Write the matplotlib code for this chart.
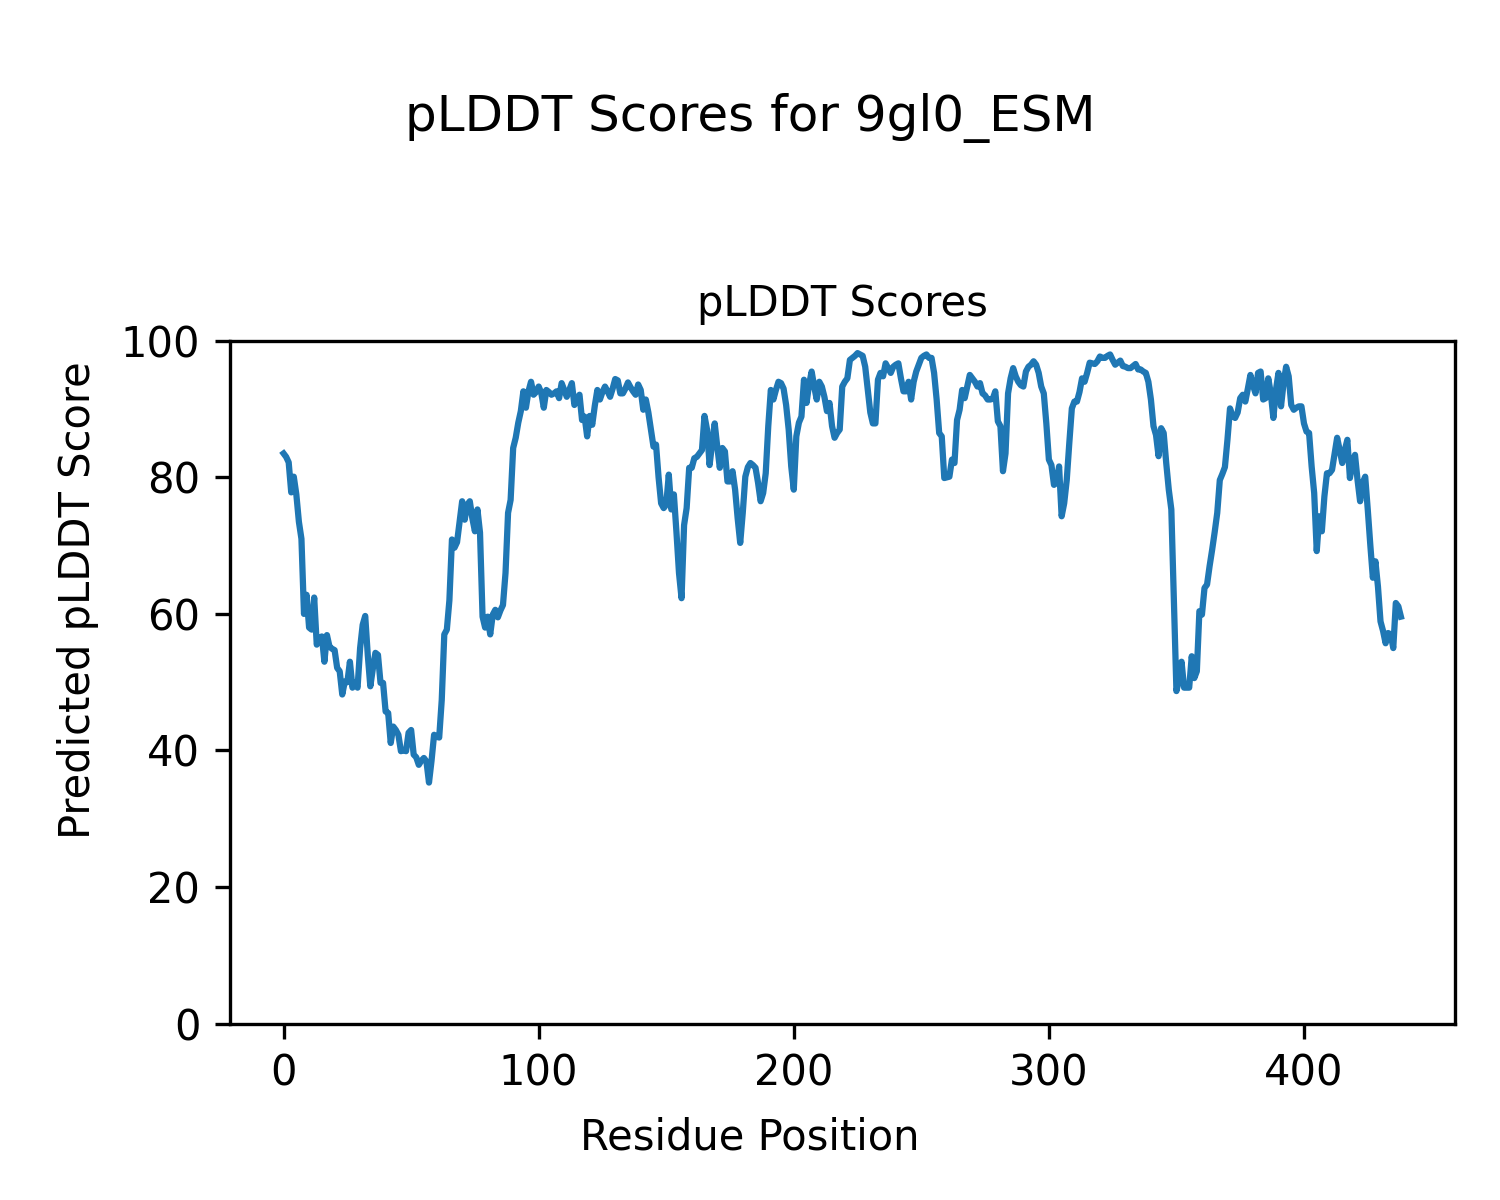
import matplotlib
matplotlib.use("Agg")
import matplotlib.pyplot as plt
import numpy as np

# pLDDT per residue
plddt = [
    83.5, 83.0, 82.2, 77.8, 80.1, 77.5, 73.5, 71.0, 60.0, 62.8,
    58.0, 57.7, 62.4, 55.5, 56.5, 56.7, 53.0, 56.9, 55.2, 54.9,
    54.7, 52.1, 51.6, 48.2, 50.1, 50.0, 53.0, 49.2, 50.0, 49.2,
    55.0, 58.4, 59.7, 54.0, 49.4, 52.0, 54.3, 54.0, 49.9, 49.9,
    45.7, 45.5, 41.1, 43.5, 43.0, 42.3, 39.9, 40.0, 39.9, 42.6,
    43.0, 39.4, 39.0, 37.9, 38.5, 38.9, 38.4, 35.3, 38.5, 42.3,
    42.0, 41.9, 47.4, 57.0, 57.7, 62.0, 70.9, 69.7, 70.5, 73.5,
    76.5, 73.8, 76.0, 76.5, 74.0, 72.1, 75.3, 71.9, 59.6, 58.0,
    59.6, 57.0, 59.9, 60.6, 59.5, 60.5, 61.3, 66.0, 74.8, 76.7,
    84.3, 85.8, 88.0, 89.7, 92.6, 90.2, 92.6, 94.0, 92.1, 92.5,
    93.3, 92.4, 90.2, 92.8, 92.5, 92.1, 92.3, 92.6, 91.6, 93.8,
    92.8, 91.8, 92.8, 93.8, 90.6, 91.5, 92.1, 88.4, 88.9, 86.0,
    89.0, 87.7, 90.5, 92.8, 91.4, 92.5, 93.3, 92.6, 91.8, 93.0,
    94.4, 94.2, 92.3, 92.3, 93.0, 93.9, 93.2, 92.6, 92.1, 93.6,
    92.8, 89.9, 91.4, 89.5, 87.0, 84.5, 84.8, 80.0, 76.2, 75.5,
    76.0, 80.4, 75.3, 77.5, 72.0, 66.0, 62.3, 73.0, 75.5, 81.4,
    81.4, 82.8, 83.0, 83.5, 84.0, 89.0, 87.0, 81.8, 85.0, 87.9,
    84.5, 81.4, 84.3, 83.8, 79.4, 79.4, 80.9, 78.2, 74.0, 70.4,
    74.8, 80.1, 81.5, 82.1, 81.8, 81.4, 79.2, 76.5, 77.7, 80.6,
    87.5, 92.8, 91.4, 92.8, 94.0, 93.8, 93.0, 90.6, 87.0, 81.6,
    78.2, 86.0, 88.0, 88.9, 94.3, 90.9, 93.6, 95.5, 93.3, 91.4,
    94.0, 93.3, 91.8, 89.7, 90.9, 87.5, 85.8, 86.5, 87.0, 93.3,
    94.0, 94.5, 97.2, 97.5, 97.8, 98.2, 98.0, 97.8, 96.2, 92.8,
    89.5, 87.9, 87.9, 94.3, 95.3, 94.8, 96.7, 96.0, 95.3, 96.2,
    96.5, 96.7, 94.5, 92.6, 92.6, 94.0, 91.4, 94.0, 95.5, 96.5,
    97.5, 97.8, 98.0, 97.5, 97.5, 95.3, 91.4, 86.5, 86.0, 79.9,
    80.0, 80.1, 82.6, 82.1, 88.4, 89.9, 92.8, 91.6, 93.3, 95.0,
    94.5, 94.0, 93.3, 93.8, 92.3, 92.0, 91.4, 91.4, 91.5, 92.6,
    88.2, 87.5, 80.9, 83.5, 92.3, 94.5, 96.0, 94.8, 94.0, 93.5,
    93.3, 95.5, 96.2, 96.5, 97.0, 96.5, 95.3, 93.3, 92.3, 87.9,
    82.6, 81.8, 78.9, 79.2, 81.6, 74.3, 76.2, 79.6, 85.0, 90.1,
    91.1, 91.1, 92.5, 94.5, 94.0, 95.3, 96.8, 96.7, 96.6, 97.0,
    97.7, 97.5, 97.5, 97.8, 98.0, 97.2, 96.5, 96.8, 97.1, 96.3,
    96.2, 96.0, 96.0, 96.3, 96.6, 95.8, 95.8, 95.5, 95.3, 94.0,
    91.4, 87.5, 86.2, 83.1, 87.2, 86.5, 82.1, 78.2, 75.3, 62.1,
    48.7, 50.4, 53.0, 49.2, 49.2, 49.2, 53.8, 50.6, 51.6, 60.4,
    59.9, 63.8, 64.3, 67.0, 69.4, 72.0, 74.8, 79.6, 80.5, 81.5,
    85.5, 90.1, 89.0, 88.7, 89.5, 91.6, 92.1, 91.1, 93.0, 95.0,
    93.5, 92.3, 95.3, 95.5, 91.4, 91.6, 94.5, 92.3, 88.7, 92.8,
    95.3, 90.4, 93.8, 96.2, 94.8, 90.6, 89.9, 90.2, 90.4, 90.4,
    87.9, 86.7, 86.5, 81.6, 77.7, 69.2, 74.3, 72.1, 77.2, 80.6,
    80.6, 81.1, 83.5, 85.8, 84.0, 82.1, 84.0, 85.5, 79.9, 82.1,
    83.3, 79.6, 76.5, 79.2, 80.1, 75.3, 70.1, 65.3, 67.7, 64.0,
    58.9, 57.5, 55.7, 57.2, 57.0, 55.0, 61.6, 61.1, 59.6,
]
residues = np.arange(len(plddt))

fig = plt.figure(figsize=(5, 4), dpi=300)
ax = fig.add_axes([0.153, 0.147, 0.817, 0.569])
ax.plot(residues, plddt, color="#1f77b4", linewidth=1.5)
ax.set_xlim(-21.2, 459.2)
ax.set_ylim(0, 100)
ax.set_title("pLDDT Scores", fontsize=10)
fig.suptitle("pLDDT Scores for 9gl0_ESM", fontsize=12, y=0.902, va="center")
fig.supxlabel("Residue Position", fontsize=10, y=0.052, va="center")
fig.supylabel("Predicted pLDDT Score", fontsize=10, x=0.052, ha="center")

fig.savefig("out.png", dpi=300)
